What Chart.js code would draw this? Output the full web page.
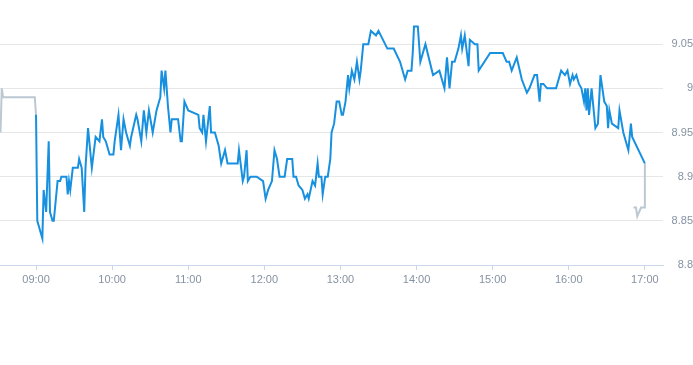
<!DOCTYPE html>
<html>
<head>
<meta charset="utf-8">
<script src="https://cdn.jsdelivr.net/npm/chart.js@4"></script>
<style>
  body { margin: 0; background: #fff; }
  #wrap { width: 693px; height: 365px; position: relative; }
</style>
</head>
<body>
<div id="wrap"><canvas id="priceChart"></canvas></div>
<script>
// Pre-open and closing auction (grey)
const preTimes = ['08:32', '08:33', '08:34', '08:59', '09:00'];
const prePrices = [8.95, 9.00, 8.99, 8.99, 8.97];
const postTimes = ['16:51', '16:53', '16:54', '16:57', '17:00', '17:00'];
const postPrices = [8.865, 8.865, 8.855, 8.865, 8.865, 8.915];

// Intraday (blue)
const times = [
    '09:00', '09:01', '09:05', '09:06', '09:08', '09:10', '09:11', '09:13', '09:14', '09:17',
    '09:19', '09:20', '09:24', '09:25', '09:26', '09:27', '09:29', '09:33', '09:34', '09:36',
    '09:38', '09:39', '09:41', '09:44', '09:47', '09:50', '09:52', '09:53', '09:55', '09:58',
    '10:01', '10:02', '10:05', '10:07', '10:09', '10:11', '10:14', '10:15', '10:19', '10:20',
    '10:23', '10:25', '10:27', '10:29', '10:32', '10:35', '10:38', '10:39', '10:41', '10:42',
    '10:44', '10:46', '10:47', '10:52', '10:54', '10:55', '10:57', '11:00', '11:08', '11:09',
    '11:11', '11:12', '11:14', '11:17', '11:18', '11:21', '11:24', '11:26', '11:29', '11:31',
    '11:39', '11:40', '11:43', '11:44', '11:46', '11:47', '11:49', '11:54', '11:59', '12:01',
    '12:03', '12:06', '12:08', '12:10', '12:12', '12:16', '12:18', '12:22', '12:23', '12:25',
    '12:27', '12:30', '12:32', '12:34', '12:35', '12:38', '12:40', '12:42', '12:43', '12:45',
    '12:46', '12:48', '12:50', '12:52', '12:53', '12:55', '12:57', '12:59', '13:01', '13:02',
    '13:04', '13:06', '13:07', '13:09', '13:11', '13:13', '13:15', '13:16', '13:18', '13:22',
    '13:24', '13:28', '13:30', '13:37', '13:42', '13:47', '13:51', '13:53', '13:56', '13:57',
    '13:58', '14:01', '14:03', '14:07', '14:13', '14:18', '14:22', '14:24', '14:26', '14:28',
    '14:30', '14:33', '14:35', '14:36', '14:38', '14:41', '14:42', '14:46', '14:48', '14:49',
    '14:58', '15:08', '15:11', '15:13', '15:15', '15:19', '15:23', '15:27', '15:29', '15:33',
    '15:35', '15:37', '15:38', '15:40', '15:43', '15:50', '15:54', '15:57', '15:59', '16:01',
    '16:03', '16:04', '16:06', '16:08', '16:10', '16:12', '16:13', '16:14', '16:15', '16:16',
    '16:18', '16:21', '16:23', '16:25', '16:28', '16:30', '16:31', '16:32', '16:34', '16:39',
    '16:40', '16:43', '16:47', '16:49', '16:50', '17:00'
];
const prices = [
    8.97, 8.85, 8.83, 8.885, 8.86, 8.94, 8.86, 8.85, 8.85, 8.895,
    8.895, 8.90, 8.90, 8.88, 8.895, 8.885, 8.91, 8.91, 8.92, 8.91,
    8.86, 8.91, 8.955, 8.91, 8.945, 8.94, 8.965, 8.945, 8.94, 8.925,
    8.925, 8.94, 8.97, 8.93, 8.965, 8.95, 8.935, 8.945, 8.97, 8.965,
    8.94, 8.975, 8.95, 8.975, 8.95, 8.975, 8.99, 9.02, 9.00, 9.02,
    8.98, 8.95, 8.965, 8.965, 8.94, 8.94, 8.985, 8.975, 8.97, 8.955,
    8.95, 8.97, 8.94, 8.98, 8.95, 8.95, 8.935, 8.915, 8.93, 8.915,
    8.915, 8.93, 8.895, 8.90, 8.93, 8.895, 8.90, 8.90, 8.895, 8.875,
    8.885, 8.895, 8.93, 8.92, 8.90, 8.90, 8.92, 8.92, 8.90, 8.90,
    8.89, 8.885, 8.875, 8.88, 8.875, 8.895, 8.89, 8.915, 8.90, 8.90,
    8.88, 8.90, 8.90, 8.92, 8.95, 8.96, 8.985, 8.985, 8.97, 8.97,
    8.985, 9.015, 9.00, 9.02, 9.01, 9.03, 9.01, 9.02, 9.05, 9.05,
    9.065, 9.06, 9.065, 9.045, 9.045, 9.03, 9.01, 9.02, 9.02, 9.04,
    9.07, 9.07, 9.03, 9.05, 9.015, 9.02, 9.00, 9.035, 9.00, 9.03,
    9.03, 9.045, 9.06, 9.045, 9.06, 9.025, 9.055, 9.05, 9.05, 9.02,
    9.04, 9.04, 9.03, 9.03, 9.02, 9.035, 9.01, 8.995, 9.00, 9.015,
    9.015, 8.985, 9.005, 9.005, 9.00, 9.00, 9.02, 9.015, 9.02, 9.005,
    9.015, 9.01, 9.015, 9.005, 9.00, 8.985, 9.00, 8.975, 9.00, 8.97,
    9.00, 8.955, 8.96, 9.015, 8.985, 8.98, 8.955, 8.975, 8.96, 8.955,
    8.975, 8.95, 8.93, 8.96, 8.945, 8.915
];

// Axis ticks
const hourLabels = ['09:00', '10:00', '11:00', '12:00', '13:00', '14:00', '15:00', '16:00', '17:00'];
const priceTicks = [8.8, 8.85, 8.9, 8.95, 9, 9.05];

// Helpers
const toMinutes = (t) => {
    const [h, m] = t.split(':').map(Number);
    return h * 60 + m;
};
const formatTime = (v) => {
    const h = Math.floor(v / 60);
    const m = Math.round(v % 60);
    return String(h).padStart(2, '0') + ':' + String(m).padStart(2, '0');
};
const toPoints = (ts, vs) => ts.map((t, i) => ({ x: toMinutes(t), y: vs[i] }));

const labelColor = '#8592a3';
const labelFont = { family: '"Liberation Sans", Arial, sans-serif', size: 11 };

const ctx = document.getElementById('priceChart').getContext('2d');
new Chart(ctx, {
    type: 'line',
    data: {
        datasets: [
            {
                data: toPoints(times, prices),
                borderColor: '#1890e0',
                borderWidth: 2,
                pointRadius: 0,
                tension: 0
            },
            {
                data: toPoints(preTimes, prePrices),
                borderColor: '#bcc8d2',
                borderWidth: 2,
                pointRadius: 0,
                tension: 0
            },
            {
                data: toPoints(postTimes, postPrices),
                borderColor: '#bcc8d2',
                borderWidth: 2,
                pointRadius: 0,
                tension: 0
            }
        ]
    },
    options: {
        responsive: true,
        maintainAspectRatio: false,
        animation: false,
        layout: {
            padding: { top: 0, right: 0, bottom: 80, left: 0 }
        },
        plugins: {
            legend: { display: false },
            tooltip: { enabled: false }
        },
        scales: {
            x: {
                type: 'linear',
                min: 511.6,
                max: 1034.3,
                afterBuildTicks: (scale) => {
                    scale.ticks = hourLabels.map(h => ({ value: toMinutes(h) }));
                },
                afterFit: (scale) => {
                    scale.height = 20;
                    scale.paddingLeft = 0;
                    scale.paddingRight = 0;
                },
                ticks: {
                    callback: (v) => formatTime(v),
                    color: labelColor,
                    font: labelFont,
                    padding: 3,
                    maxRotation: 0,
                    autoSkip: false
                },
                grid: {
                    drawOnChartArea: false,
                    drawTicks: true,
                    tickLength: 5,
                    color: '#ccd6eb'
                },
                border: { color: '#ccd6eb', width: 1 }
            },
            y: {
                position: 'right',
                min: 8.8,
                max: 9.1,
                afterBuildTicks: (scale) => {
                    scale.ticks = priceTicks.map(v => ({ value: v }));
                },
                afterFit: (scale) => {
                    scale.width = 30;
                    scale.paddingTop = 0;
                    scale.paddingBottom = 0;
                },
                ticks: {
                    callback: (v) => String(+v.toFixed(2)),
                    crossAlign: 'far',
                    color: labelColor,
                    font: labelFont,
                    padding: 8
                },
                grid: {
                    color: '#e6e6e6',
                    drawTicks: false
                },
                border: { display: false }
            }
        }
    }
});
</script>
</body>
</html>
